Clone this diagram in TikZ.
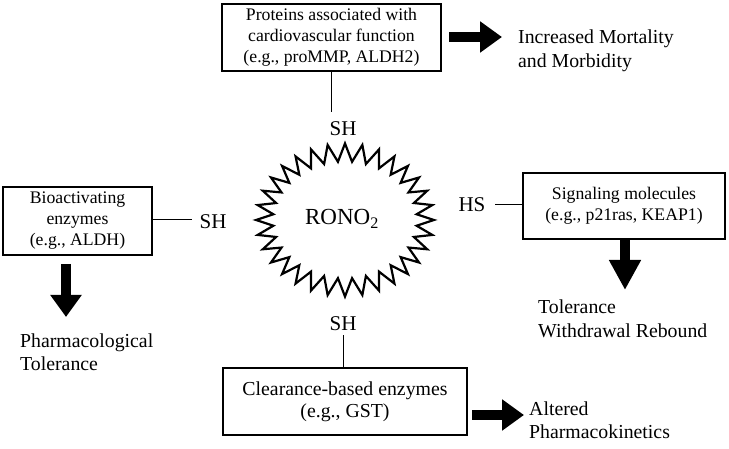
\documentclass[tikz,border=0pt]{standalone}
\usepackage{fontspec}
\setmainfont{Liberation Serif}
\usetikzlibrary{arrows.meta}
\tikzset{
  box/.style={draw, line width=2pt, align=center, inner sep=0pt, font=\fontsize{17.7}{21}\selectfont},
  bigbox/.style={box, font=\fontsize{19.8}{22}\selectfont},
  outtext/.style={align=left, inner sep=0pt, font=\fontsize{19.8}{23.5}\selectfont},
  shtext/.style={inner sep=0pt, font=\fontsize{21}{24}\selectfont},
  link/.style={line width=1pt},
  fat/.style={line width=9.5pt, -{Triangle[length=22pt,width=30pt]}},
  burst/.style={draw, line width=2.2pt, line join=miter, miter limit=20}
}
\begin{document}
\begin{tikzpicture}[x=1pt,y=-1pt]
\useasboundingbox (0,0) rectangle (729,449);
% starburst
\draw[burst] (434,220) \foreach \i in {1,...,63} { -- ({345+(80.5+8.5*cos(180*\i))*cos(\i*5.625)},{220+(67.5+9*cos(180*\i))*sin(\i*5.625)}) } -- cycle;
\node[inner sep=0pt, font=\fontsize{23}{26}\selectfont] (rono) at (342,219) {RONO\textsubscript{2}};

% top
\node[box, minimum width=219, minimum height=67] (top) at (331.5,37.5) {Proteins associated with\\cardiovascular function\\(e.g., proMMP, ALDH2)};
\coordinate (topend) at (331.5,112);
\node[shtext] (topsh) at (343,129) {SH};
\draw[link] (top.south) -- (topend);
\coordinate (topa) at (449,37);
\coordinate (topb) at (502,37);
\draw[fat] (topa) -- (topb);
\node[outtext, anchor=west] (mort) at (518,51) {Increased Mortality\\and Morbidity};

% left
\node[box, minimum width=149, minimum height=68] (left) at (77.5,221) {Bioactivating\\enzymes\\(e.g., ALDH)};
\coordinate (leftend) at (192,220);
\node[shtext] (leftsh) at (213,222) {SH};
\draw[link] (left.east |- leftend) -- (leftend);
\coordinate (lefta) at (66,264);
\coordinate (leftb) at (66,317);
\draw[fat] (lefta) -- (leftb);
\node[outtext, anchor=west] (pharm) at (20,352) {Pharmacological\\Tolerance};

% right
\node[box, minimum width=202, minimum height=66] (right) at (624,206) {Signaling molecules\\(e.g., p21ras, KEAP1)};
\coordinate (rightend) at (495,205);
\node[shtext] (rightsh) at (472,205) {HS};
\draw[link] (right.west |- rightend) -- (rightend);
\coordinate (righta) at (625,239);
\coordinate (rightb) at (625,290);
\draw[fat, -{Triangle[length=30pt,width=30pt]}] (righta) -- (rightb);
\node[outtext, anchor=west] (tol) at (538,319) {Tolerance\\Withdrawal Rebound};

% bottom
\node[bigbox, minimum width=244, minimum height=67] (bottom) at (345,401.5) {Clearance-based enzymes\\(e.g., GST)};
\coordinate (botend) at (343,335);
\node[shtext] (botsh) at (343,324) {SH};
\draw[link] (bottom.north -| botend) -- (botend);
\coordinate (bota) at (472,415);
\coordinate (botb) at (524,415);
\draw[fat] (bota) -- (botb);
\node[outtext, anchor=west] (pk) at (529,420) {Altered\\Pharmacokinetics};
\end{tikzpicture}
\end{document}
